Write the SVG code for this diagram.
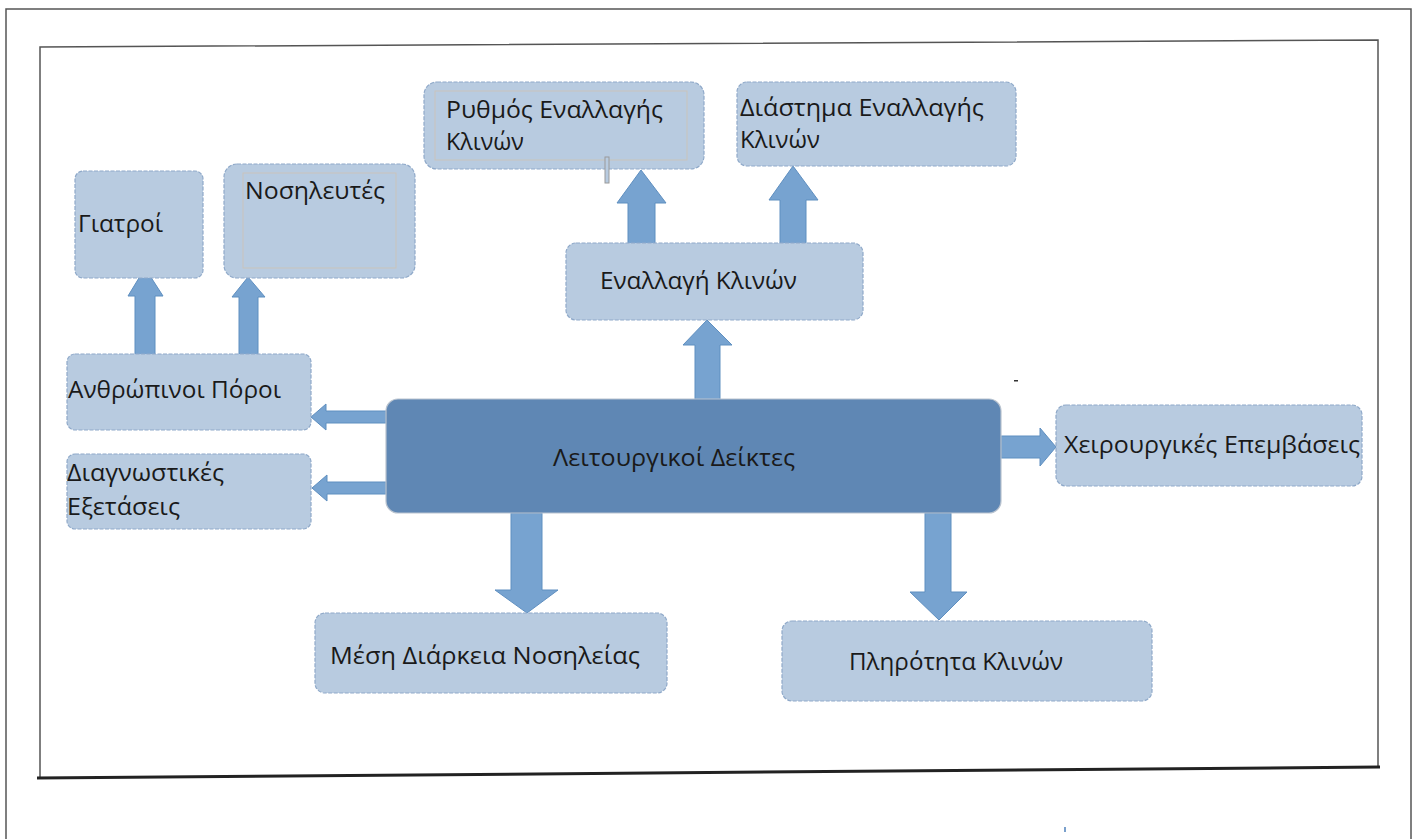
<svg xmlns="http://www.w3.org/2000/svg" width="1416" height="839" viewBox="0 0 1416 839">
<defs>
<style>
.box{fill:#b8cbe0;stroke:#8fa9c9;stroke-width:1.2;stroke-dasharray:4 1.5}
.main{fill:#5f87b4;stroke:#b9c3cf;stroke-width:1.2}
.inner{fill:none;stroke:#c9c4bb;stroke-width:1}
.arrow{fill:#77a3d0;stroke:#5f8fc0;stroke-width:1}
.t{font-family:"Open Sans","Noto Sans",sans-serif;font-size:24px;fill:#1a1a1a}
.frame{fill:none;stroke:#555;stroke-width:1.5}
</style>
</defs>
<rect x="0" y="0" width="1416" height="839" fill="#fff"/>
<g id="frames">
<path d="M6,839 V9 H1411 V839" class="frame"/>
<path d="M40,778 V47 L1378,40 V767" class="frame" stroke="#666" stroke-width="2"/>
<path d="M37,778 L1380,767" fill="none" stroke="#222" stroke-width="3"/>
</g>
<g id="connectors">
<path class="arrow" d="M135,358 V296 H128 L145,268 L163,296 H155 V358 Z"/>
<path class="arrow" d="M239,358 V297 H232 L248,277 L265,297 H258 V358 Z"/>
<path class="arrow" d="M628,248 V203 H617 L641,170 L666,203 H655 V248 Z"/>
<path class="arrow" d="M780,248 V200 H769 L793,166 L818,200 H806 V248 Z"/>
<path class="arrow" d="M695,401 V345 H683 L707,320 L732,345 H720 V401 Z"/>
<path class="arrow" d="M386,411 H326 V404 L311,417 L326,430 V423 H386 Z"/>
<path class="arrow" d="M386,482 H327 V475 L312,488 L327,501 V494 H386 Z"/>
<path class="arrow" d="M1001,436 H1040 V428 L1056,447 L1040,466 V458 H1001 Z"/>
<path class="arrow" d="M511,513 V590 H495 L527,613 L558,590 H542 V513 Z"/>
<path class="arrow" d="M925,513 V592 H910 L939,620 L967,592 H951 V513 Z"/>
</g>
<g id="n-main">
<rect class="main" x="386" y="399" width="615" height="114" rx="12"/>
<text class="t" x="553" y="466" textLength="242" lengthAdjust="spacingAndGlyphs">Λειτουργικοί Δείκτες</text>
</g>
<g id="n-giatroi">
<rect class="box" x="75" y="171" width="128" height="107" rx="8"/>
<text class="t" x="78" y="232" textLength="85" lengthAdjust="spacingAndGlyphs">Γιατροί</text>
</g>
<g id="n-nosileutes">
<rect class="box" x="224" y="164" width="191" height="114" rx="13"/>
<rect class="inner" x="243" y="173" width="153" height="95"/>
<text class="t" x="245" y="199" textLength="140" lengthAdjust="spacingAndGlyphs">Νοσηλευτές</text>
</g>
<g id="n-rythmos">
<rect class="box" x="424" y="82" width="280" height="87" rx="13"/>
<rect class="inner" x="435" y="91" width="252" height="69"/>
<rect x="605" y="157" width="4" height="26" fill="#b8cbe0" stroke="#9a9a9a" stroke-width="1"/>
<text class="t" x="446" y="118" textLength="217" lengthAdjust="spacingAndGlyphs">Ρυθμός Εναλλαγής</text>
<text class="t" x="446" y="150" textLength="78" lengthAdjust="spacingAndGlyphs">Κλινών</text>
</g>
<g id="n-diastima">
<rect class="box" x="737" y="82" width="279" height="84" rx="10"/>
<text class="t" x="740" y="116" textLength="244" lengthAdjust="spacingAndGlyphs">Διάστημα Εναλλαγής</text>
<text class="t" x="740" y="148" textLength="80" lengthAdjust="spacingAndGlyphs">Κλινών</text>
</g>
<g id="n-enallagi">
<rect class="box" x="566" y="243" width="297" height="77" rx="10"/>
<text class="t" x="600" y="289" textLength="197" lengthAdjust="spacingAndGlyphs">Εναλλαγή Κλινών</text>
</g>
<g id="n-anthropinoi">
<rect class="box" x="67" y="354" width="244" height="76" rx="8"/>
<text class="t" x="68" y="398" textLength="213" lengthAdjust="spacingAndGlyphs">Ανθρώπινοι Πόροι</text>
</g>
<g id="n-diagnostikes">
<rect class="box" x="67" y="454" width="244" height="75" rx="8"/>
<text class="t" x="67" y="481" textLength="157" lengthAdjust="spacingAndGlyphs">Διαγνωστικές</text>
<text class="t" x="67" y="515" textLength="113" lengthAdjust="spacingAndGlyphs">Εξετάσεις</text>
</g>
<g id="n-xeirourgikes">
<rect class="box" x="1056" y="405" width="306" height="81" rx="10"/>
<text class="t" x="1064" y="453" textLength="296" lengthAdjust="spacingAndGlyphs">Χειρουργικές Επεμβάσεις</text>
</g>
<g id="n-mesi">
<rect class="box" x="315" y="613" width="352" height="80" rx="10"/>
<text class="t" x="330" y="664" textLength="310" lengthAdjust="spacingAndGlyphs">Μέση Διάρκεια Νοσηλείας</text>
</g>
<g id="n-plirotita">
<rect class="box" x="782" y="621" width="370" height="80" rx="10"/>
<text class="t" x="849" y="670" textLength="214" lengthAdjust="spacingAndGlyphs">Πληρότητα Κλινών</text>
</g>
<g id="marks">
<rect x="1014" y="380" width="4" height="1.5" fill="#333"/>
<rect x="1064" y="827" width="2" height="5" fill="#7aa0cc"/>
</g>
</svg>
